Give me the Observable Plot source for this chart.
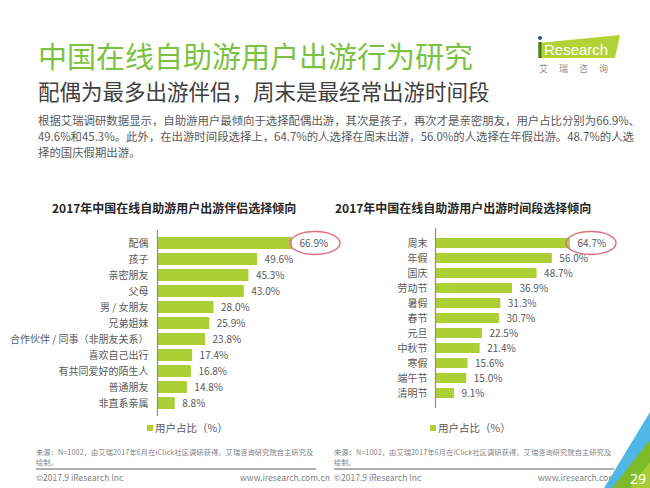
<!DOCTYPE html>
<html>
<head>
<meta charset="utf-8">
<script src="https://cdn.jsdelivr.net/npm/d3@7"></script>
<script src="https://cdn.jsdelivr.net/npm/@observablehq/plot@0.6"></script>
<style>
  html, body { margin: 0; padding: 0; background: #fff; }
  body { font-family: "Noto Sans CJK SC", "Noto Sans", sans-serif; }
  #page { position: relative; width: 650px; height: 488px; overflow: hidden; background: #fff; }
  .abs { position: absolute; white-space: nowrap; }
  #title { left: 38px; top: 41px; font-size: 29px; line-height: 29px; color: #7cc242; }
  #subtitle { left: 38px; top: 80px; font-size: 21.5px; line-height: 22px; color: #404040; }
  #para { left: 38px; top: 112px; font-size: 11.4px; line-height: 16px; color: #595959; }
  .ctitle { top: 201px; font-size: 12px; line-height: 14px; font-weight: bold; color: #262626; }
  .legend { top: 421px; font-size: 10.5px; line-height: 14px; color: #595959; }
  .legend i { display: inline-block; width: 6px; height: 6px; background: #abcf35; margin-right: 2px; vertical-align: 1px; }
  .src { font-size: 7.2px; line-height: 9px; letter-spacing: 0.12px; color: #7f7f7f; }
  .rule { height: 1.5px; background: #b0b0b0; top: 468px; width: 280px; }
  .foot { top: 472px; font-size: 8.5px; line-height: 10px; color: #7f7f7f; }
</style>
</head>
<body>
<div id="page">
  <div id="title" class="abs">中国在线自助游用户出游行为研究</div>
  <div id="subtitle" class="abs">配偶为最多出游伴侣，周末是最经常出游时间段</div>
  <div id="para" class="abs">根据艾瑞调研数据显示，自助游用户最倾向于选择配偶出游，其次是孩子，再次才是亲密朋友，用户占比分别为66.9%、<br>49.6%和45.3%。此外，在出游时间段选择上，64.7%的人选择在周末出游，56.0%的人选择在年假出游。48.7%的人选<br>择的国庆假期出游。</div>

  <svg class="abs" style="left:530px;top:28px" width="100" height="50">
    <polygon points="8,15 90,7 85,30 8,30" fill="#b3d236"/>
    <rect x="8.5" y="14" width="3" height="16" fill="#4a7d2a"/>
    <circle cx="10" cy="10" r="2" fill="#1f4e9c"/>
    <text x="14" y="27" font-size="15" fill="#fff" font-family="Liberation Sans, Arial, sans-serif">Research</text>
    <text x="9" y="44" font-size="9" fill="#8c8c8c" letter-spacing="11">艾瑞咨询</text>
  </svg>

  <div class="abs ctitle" style="left:52px">2017年中国在线自助游用户出游伴侣选择倾向</div>
  <div class="abs ctitle" style="left:335px">2017年中国在线自助游用户出游时间段选择倾向</div>

  <div id="chartL" class="abs" style="left:0px;top:220px"></div>
  <div id="chartR" class="abs" style="left:320px;top:220px"></div>

  <div class="abs legend" style="left:147px"><i></i>用户占比（%）</div>
  <div class="abs legend" style="left:430px"><i></i>用户占比（%）</div>

  <div class="abs src" style="left:36px;top:447.5px">来源：N=1002，由艾瑞2017年6月在iClick社区调研获得。艾瑞咨询研究院自主研究及</div>
  <div class="abs src" style="left:36px;top:458px">绘制。</div>
  <div class="abs src" style="left:334px;top:447.5px">来源：N=1002，由艾瑞2017年6月在iClick社区调研获得。艾瑞咨询研究院自主研究及</div>
  <div class="abs src" style="left:334px;top:458px">绘制。</div>
  <div class="abs rule" style="left:36px"></div>
  <div class="abs rule" style="left:334px"></div>
  <div class="abs foot" style="left:36px">©2017.9 iResearch Inc</div>
  <div class="abs foot" style="left:240px">www.iresearch.com.cn</div>
  <div class="abs foot" style="left:334px">©2017.9 iResearch Inc</div>
  <div class="abs foot" style="left:538px">www.iresearch.com.cn</div>

  <svg class="abs" style="left:590px;top:400px" width="60" height="88">
    <polygon points="60,12 60,88 14,88" fill="#4fb6e6"/>
    <polygon points="60,40 60,88 22,88" fill="#7dbb2a"/>
    <polygon points="40,88 60,62 60,88" fill="#b3d236" opacity="0.8"/>
    <text x="40" y="84" font-size="14" fill="#fff" font-family="Noto Sans, sans-serif">29</text>
  </svg>
</div>

<script>
// Chart 1: travel companions
const companions = ["配偶", "孩子", "亲密朋友", "父母", "男 / 女朋友", "兄弟姐妹", "合作伙伴 / 同事（非朋友关系）", "喜欢自己出行", "有共同爱好的陌生人", "普通朋友", "非直系亲属"];
const companionValues = [66.9, 49.6, 45.3, 43.0, 28.0, 25.9, 23.8, 17.4, 16.8, 14.8, 8.8];

// Chart 2: travel periods
const periods = ["周末", "年假", "国庆", "劳动节", "暑假", "春节", "元旦", "中秋节", "寒假", "端午节", "清明节"];
const periodValues = [64.7, 56.0, 48.7, 36.9, 31.3, 30.7, 22.5, 21.4, 15.6, 15.0, 9.1];

const barColor = "#abcf35";
const textColor = "#595959";

function makeChart(cats, vals, opts) {
  const data = cats.map((c, i) => ({name: c, value: vals[i]}));
  const plot = Plot.plot({
    width: opts.width,
    height: 200,
    marginLeft: opts.marginLeft,
    marginRight: opts.marginRight,
    marginTop: opts.marginTop,
    marginBottom: opts.marginBottom,
    style: {fontFamily: '"Noto Sans CJK SC", sans-serif', fontSize: "10px", color: textColor, background: "transparent", overflow: "visible"},
    x: {axis: null, domain: [0, d3.max(vals)]},
    y: {domain: cats, padding: opts.padding, label: null, tickSize: 0, tickPadding: opts.tickPadding},
    marks: [
      Plot.barX(data, {x: "value", y: "name", fill: barColor}),
      Plot.ruleX([0], {stroke: "#8c8c8c", strokeWidth: 1.2}),
      Plot.text(data, {x: "value", y: "name", text: d => d.value.toFixed(1) + "%", textAnchor: "start", dx: 7, fill: textColor, fontSize: 10})
    ]
  });
  // red ellipse highlight around the top value label
  const xs = plot.scale("x"), ys = plot.scale("y");
  const cx = xs.apply(vals[0]) + opts.ellipseDx;
  const cy = ys.apply(cats[0]) + ys.bandwidth / 2;
  d3.select(plot).append("ellipse")
    .attr("cx", cx).attr("cy", cy)
    .attr("rx", 25).attr("ry", 11.5)
    .attr("fill", "none").attr("stroke", "#e0707c").attr("stroke-width", 1.4);
  return plot;
}

document.getElementById("chartL").appendChild(makeChart(companions, companionValues, {
  width: 330, marginLeft: 157, marginRight: 38, marginTop: 10, marginBottom: 4, padding: 0.27, tickPadding: 9, ellipseDx: 23
}));
document.getElementById("chartR").appendChild(makeChart(periods, periodValues, {
  width: 330, marginLeft: 115, marginRight: 80, marginTop: 8, marginBottom: 12, padding: 0.31, tickPadding: 8, ellipseDx: 21
}));
</script>
</body>
</html>
